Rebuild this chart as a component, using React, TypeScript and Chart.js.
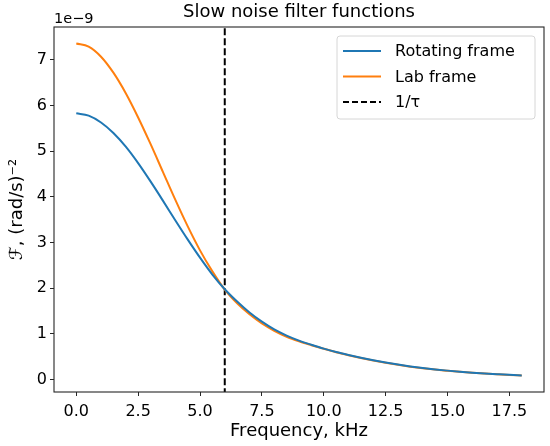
import { useEffect, useRef } from "react";
import { Chart, registerables } from "chart.js";

Chart.register(...registerables);

const freqKHz = [
  0, 0.5, 1, 1.5, 2, 2.5, 3, 3.5, 4, 4.5, 5, 5.5, 6, 6.5, 7, 7.5, 8, 8.5, 9,
  9.5, 10, 10.5, 11, 11.5, 12, 12.5, 13, 13.5, 14, 14.5, 15, 15.5, 16, 16.5, 17,
  17.5, 18,
];
// values in units of 1e-9 (rad/s)^-2
const rotatingFrame = [
  5.83, 5.78, 5.63, 5.4, 5.1, 4.74, 4.34, 3.92, 3.49, 3.07, 2.67, 2.3, 1.98,
  1.71, 1.47, 1.27, 1.1, 0.965, 0.855, 0.765, 0.68, 0.605, 0.54, 0.48, 0.425,
  0.375, 0.33, 0.29, 0.255, 0.225, 0.198, 0.174, 0.154, 0.136, 0.12, 0.105,
  0.093,
];
const labFrame = [
  7.36, 7.29, 7.07, 6.72, 6.27, 5.74, 5.16, 4.55, 3.94, 3.36, 2.83, 2.37, 1.97,
  1.67, 1.43, 1.23, 1.07, 0.94, 0.84, 0.755, 0.675, 0.6, 0.535, 0.475, 0.42,
  0.37, 0.325, 0.285, 0.25, 0.22, 0.195, 0.172, 0.152, 0.134, 0.118, 0.104,
  0.092,
];
const tauFreq = 6;
const xTicks = [0, 2.5, 5, 7.5, 10, 12.5, 15, 17.5];
const yTicks = [0, 1, 2, 3, 4, 5, 6, 7];

const FONT = "'DejaVu Sans', sans-serif";
const INK = "#262626";

const decorations = {
  id: "decorations",
  afterDraw(chart: any) {
    const { ctx, chartArea: a } = chart;
    ctx.save();
    // frame
    ctx.strokeStyle = INK;
    ctx.lineWidth = 1.1;
    ctx.strokeRect(a.left, a.top, a.right - a.left, a.bottom - a.top);

    // title
    ctx.fillStyle = "#000";
    ctx.font = `18px ${FONT}`;
    ctx.textAlign = "center";
    ctx.textBaseline = "middle";
    ctx.fillText("Slow noise filter functions", (a.left + a.right) / 2, 12);

    // offset text
    ctx.font = `14.5px ${FONT}`;
    ctx.textAlign = "left";
    ctx.fillText("1e\u22129", a.left, 19);

    // legend
    const bx = 337, by = 36, bw = 198, bh = 83;
    ctx.globalAlpha = 0.8;
    ctx.fillStyle = "#fff";
    ctx.beginPath();
    ctx.roundRect(bx, by, bw, bh, 3);
    ctx.fill();
    ctx.globalAlpha = 1;
    ctx.strokeStyle = "#d6d6d6";
    ctx.lineWidth = 1;
    ctx.stroke();
    ctx.font = `16px ${FONT}`;
    ctx.fillStyle = "#000";
    chart.data.datasets.forEach((ds: any, i: number) => {
      const y = 51 + i * 25.5;
      ctx.beginPath();
      ctx.strokeStyle = ds.borderColor;
      ctx.lineWidth = 2;
      ctx.setLineDash(ds.borderDash ? [6, 3] : []);
      ctx.moveTo(343, y);
      ctx.lineTo(381, y);
      ctx.stroke();
      ctx.setLineDash([]);
      ctx.fillText(ds.label, 395, y + 1);
    });
    ctx.restore();
  },
};

export default function App() {
  const canvasRef = useRef<HTMLCanvasElement | null>(null);

  useEffect(() => {
    document.body.style.margin = "0";
    if (!canvasRef.current) return;
    const chart = new Chart(canvasRef.current, {
      type: "line",
      data: {
        datasets: [
          {
            label: "Rotating frame",
            data: freqKHz.map((f, i) => ({ x: f, y: rotatingFrame[i] })),
            borderColor: "#1f77b4",
            borderWidth: 2,
            pointRadius: 0,
            cubicInterpolationMode: "monotone",
          },
          {
            label: "Lab frame",
            data: freqKHz.map((f, i) => ({ x: f, y: labFrame[i] })),
            borderColor: "#ff7f0e",
            borderWidth: 2,
            pointRadius: 0,
            cubicInterpolationMode: "monotone",
          },
          {
            label: "1/\u03c4",
            data: [
              { x: tauFreq, y: -1 },
              { x: tauFreq, y: 9 },
            ],
            borderColor: "#000",
            borderWidth: 2,
            borderDash: [7, 3],
            pointRadius: 0,
          },
        ],
      },
      options: {
        animation: false,
        responsive: false,
        maintainAspectRatio: false,
        layout: { padding: { top: 27, right: 6, left: 0, bottom: 0 } },
        plugins: { legend: { display: false }, tooltip: { enabled: false }, title: { display: false } },
        scales: {
          x: {
            type: "linear",
            min: -0.9,
            max: 18.9,
            afterBuildTicks: (s: any) => {
              s.ticks = xTicks.map((v) => ({ value: v }));
            },
            afterFit: (s: any) => {
              s.height = 54;
            },
            ticks: {
              color: "#000",
              font: { family: FONT, size: 16 },
              padding: 6,
              maxRotation: 0,
              callback: (v: any) => Number(v).toFixed(1),
            },
            grid: { display: true, drawOnChartArea: false, drawTicks: true, tickLength: 4, tickColor: INK, tickWidth: 1 },
            border: { display: false },
            title: {
              display: true,
              text: "Frequency, kHz",
              color: "#000",
              font: { family: FONT, size: 18 },
              padding: { top: 0, bottom: 4 },
            },
          },
          y: {
            type: "linear",
            min: -0.27,
            max: 7.72,
            afterBuildTicks: (s: any) => {
              s.ticks = yTicks.map((v) => ({ value: v }));
            },
            afterFit: (s: any) => {
              s.width = 54;
            },
            ticks: {
              color: "#000",
              font: { family: FONT, size: 16 },
              padding: 3,
              callback: (v: any) => String(v),
            },
            grid: { display: true, drawOnChartArea: false, drawTicks: true, tickLength: 4, tickColor: INK, tickWidth: 1 },
            border: { display: false },
            title: {
              display: true,
              text: "\u2131, (rad/s)\u207b\u00b2",
              color: "#000",
              font: { family: FONT, size: 18 },
              padding: { top: 7, bottom: 0 },
            },
          },
        },
      },
      plugins: [decorations],
    });
    return () => chart.destroy();
  }, []);

  return (
    <div style={{ position: "absolute", left: 0, top: 0, width: 550, height: 446, background: "#fff" }}>
      <canvas ref={canvasRef} width={550} height={446} />
    </div>
  );
}
